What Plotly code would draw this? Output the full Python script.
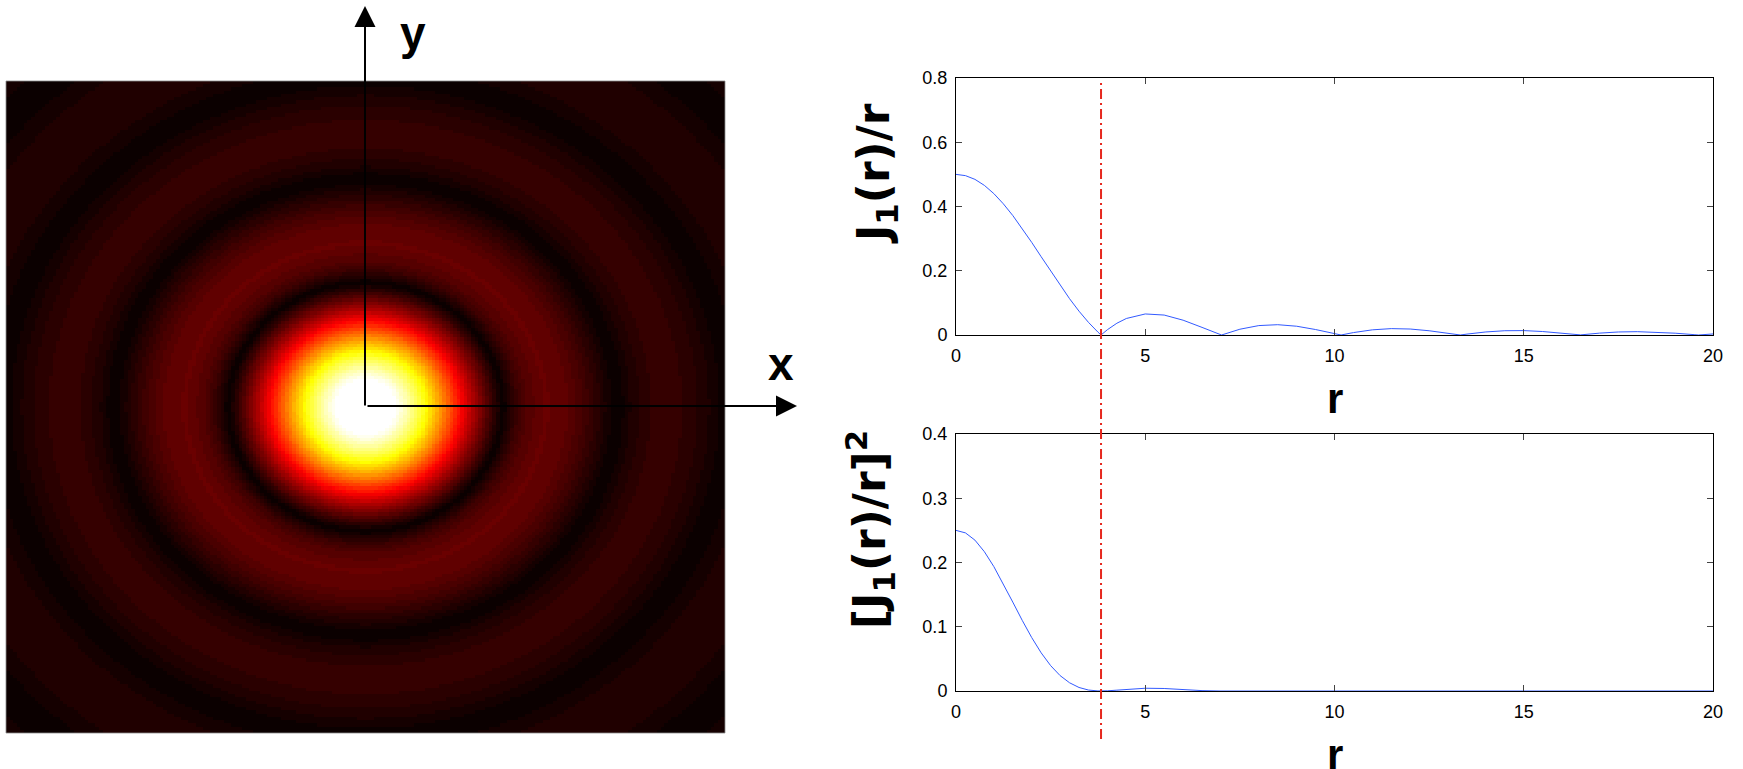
import numpy as np
import plotly.graph_objects as go

W, H = 1743, 769

# radius samples (r)
R = [0, 0.25, 0.5, 0.75, 1, 1.25, 1.5, 1.75, 2, 2.25, 2.5, 2.75, 3, 3.25, 3.5, 3.75, 3.8317,
     4, 4.25, 4.5, 5, 5.5, 6, 6.5, 7, 7.0156, 7.5, 8, 8.5, 9, 9.5, 10, 10.1735,
     10.5, 11, 11.5, 12, 12.5, 13, 13.3237, 13.5, 14, 14.5, 15, 15.5, 16, 16.4706,
     16.5, 17, 17.5, 18, 18.5, 19, 19.5, 19.6159, 20]
# |J1(r)/r|
AMP = [0.5, 0.4961, 0.4845, 0.4657, 0.4401, 0.4085, 0.3720, 0.3315, 0.2884, 0.2437, 0.1988, 0.1549,
       0.1130, 0.0742, 0.0393, 0.0089, 0, 0.0165, 0.0366, 0.0514, 0.0655, 0.0621, 0.0461, 0.0237,
       0.0007, 0, 0.0180, 0.0293, 0.0321, 0.0273, 0.0170, 0.0044, 0, 0.0075, 0.0161, 0.0199, 0.0186,
       0.0132, 0.0054, 0, 0.0028, 0.0095, 0.0133, 0.0137, 0.0108, 0.0057, 0, 0.0003, 0.0058, 0.0094,
       0.0104, 0.0090, 0.0056, 0.0011, 0, 0.0033]
# [J1(r)/r]^2
INTENSITY = [0.25, 0.2461, 0.2348, 0.2168, 0.1936, 0.1669, 0.1384, 0.1099, 0.0832, 0.0594, 0.0395,
             0.0240, 0.0128, 0.0055, 0.0015, 0.0001, 0, 0.0003, 0.0013, 0.0026, 0.0043, 0.0039,
             0.0021, 0.0006, 0.0000, 0, 0.0003, 0.0009, 0.0010, 0.0007, 0.0003, 0.0000, 0, 0.0001,
             0.0003, 0.0004, 0.0003, 0.0002, 0.0000, 0, 0.0000, 0.0001, 0.0002, 0.0002, 0.0001,
             0.0000, 0, 0.0000, 0.0000, 0.0001, 0.0001, 0.0001, 0.0000, 0.0000, 0, 0.0000]
FIRST_ZERO = 3.8317
X_TICKS = [0, 5, 10, 15, 20]
Y1_TICKS = [0, 0.2, 0.4, 0.6, 0.8]
Y2_TICKS = [0, 0.1, 0.2, 0.3, 0.4]

# image plane grid
GRID = np.linspace(-10, 10, 201)
XX, YY = np.meshgrid(GRID, GRID)
Z = np.interp(np.hypot(XX, YY), R, AMP)


def px(x):
    return x / W


def py(y):
    return 1 - y / H


# matlab-like "hot" colormap, 64 levels
def hot_scale(n=64):
    n1 = int(3 / 8 * n)
    cols = []
    for i in range(1, n + 1):
        r = min(i / n1, 1.0)
        g = min(max((i - n1) / n1, 0.0), 1.0)
        b = min(max((i - 2 * n1) / (n - 2 * n1), 0.0), 1.0)
        cols.append(f"rgb({round(r*255)},{round(g*255)},{round(b*255)})")
    cs = []
    for i, c in enumerate(cols):
        cs.append([i / n, c])
        cs.append([(i + 1) / n, c])
    return cs


fig = go.Figure()
fig.add_trace(go.Heatmap(x=GRID, y=GRID, z=Z, colorscale=hot_scale(), zmin=0, zmax=0.46,
                         showscale=False, zsmooth=False, xaxis="x3", yaxis="y3", hoverinfo="skip"))
fig.add_trace(go.Scatter(x=R, y=AMP, mode="lines", line=dict(color="rgb(50,90,255)", width=1),
                         xaxis="x", yaxis="y"))
fig.add_trace(go.Scatter(x=R, y=INTENSITY, mode="lines", line=dict(color="rgb(50,90,255)", width=1),
                         xaxis="x2", yaxis="y2"))

tickfont = dict(family="Liberation Sans, Arial, sans-serif", size=18, color="black")
common = dict(showline=True, linecolor="black", linewidth=1, mirror="ticks", ticks="inside",
              ticklen=6, tickcolor="#444", showgrid=False, zeroline=False, tickfont=tickfont,
              automargin=False)

fig.update_layout(
    template="none",
    width=W, height=H, margin=dict(l=0, r=0, t=0, b=0, pad=0, autoexpand=False),
    paper_bgcolor="white", plot_bgcolor="white", showlegend=False,
    xaxis=dict(domain=[px(956), px(1713)], range=[0, 20], tickvals=X_TICKS, anchor="y",
               ticklabelstandoff=4, **common),
    yaxis=dict(domain=[py(335), py(78)], range=[0, 0.8], tickvals=Y1_TICKS, anchor="x",
               ticklabelstandoff=4, **common),
    xaxis2=dict(domain=[px(956), px(1713)], range=[0, 20], tickvals=X_TICKS, anchor="y2",
                ticklabelstandoff=4, **common),
    yaxis2=dict(domain=[py(691), py(434)], range=[0, 0.4], tickvals=Y2_TICKS, anchor="x2",
                ticklabelstandoff=4, **common),
    xaxis3=dict(domain=[px(6), px(725)], range=[-10.05, 10.05], visible=False, anchor="y3",
                automargin=False),
    yaxis3=dict(domain=[py(733), py(81)], range=[-10.05, 10.05], visible=False, anchor="x3",
                automargin=False),
)

# thin frame round the image
fig.add_shape(type="rect", xref="x3 domain", yref="y3 domain", x0=0, x1=1, y0=0, y1=1,
              line=dict(color="rgba(140,140,140,0.8)", width=1), layer="above")
fig.add_shape(type="line", xref="x", yref="paper", x0=FIRST_ZERO, x1=FIRST_ZERO,
              y0=py(739), y1=py(83), line=dict(color="rgb(230,40,30)", width=2,
                                              dash="10px,4px,2px,4px"))

bold = dict(family="Liberation Sans, Arial, sans-serif", color="black")
wide = dict(family="DejaVu Sans, sans-serif", color="black")
ctr = dict(xref="paper", yref="paper", xanchor="center", yanchor="middle", showarrow=False)
ann = []
# axis arrows on the image
ann.append(dict(x=px(365), y=py(6), xref="paper", yref="paper", ax=0, ay=401, text="",
                showarrow=True, arrowhead=2, arrowsize=2.1, arrowwidth=2, arrowcolor="black"))
ann.append(dict(x=px(797), y=py(406), xref="paper", yref="paper", ax=-431, ay=0, text="",
                showarrow=True, arrowhead=2, arrowsize=2.1, arrowwidth=2, arrowcolor="black"))
ann.append(dict(x=px(413), y=py(33), text="<b>y</b>", font=dict(size=46, **bold), **ctr))
ann.append(dict(x=px(781), y=py(364), text="<b>x</b>", font=dict(size=46, **bold), **ctr))
# axis titles
ann.append(dict(x=px(877), y=py(174), text="<b>J<sub>1</sub>(r)/r</b>", textangle=-90,
                font=dict(size=44, **wide), **ctr))
ann.append(dict(x=px(870), y=py(530), text="<b>[J<sub>1</sub>(r)/r]<sup>2</sup></b>", textangle=-90,
                font=dict(size=44, **wide), **ctr))
ann.append(dict(x=px(1335), y=py(398), text="<b>r</b>", font=dict(size=42, **bold), **ctr))
ann.append(dict(x=px(1335), y=py(754), text="<b>r</b>", font=dict(size=42, **bold), **ctr))
fig.update_layout(annotations=ann)

fig.write_html("out.html", config={"displayModeBar": False},
               post_script="document.body.style.margin='0';document.body.style.overflow='hidden';")
